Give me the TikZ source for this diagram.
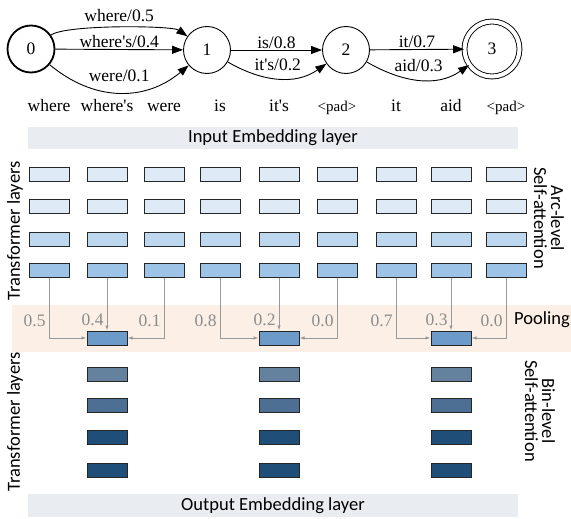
\documentclass[tikz,border=0pt]{standalone}
\usepackage{fontspec}
\setmainfont{Liberation Serif}[Ligatures=TeXOff]
\newfontfamily\labelfont{Carlito}
\usetikzlibrary{arrows.meta}

\definecolor{embgray}{HTML}{E9ECF1}
\definecolor{poolband}{HTML}{FBEFE6}
\definecolor{arcA}{HTML}{DEEBF7}
\definecolor{arcB}{HTML}{BDD7EE}
\definecolor{arcC}{HTML}{9DC3E6}
\definecolor{poolblue}{HTML}{6C9BCA}
\definecolor{binA}{HTML}{64819E}
\definecolor{binB}{HTML}{4C6F93}
\definecolor{binC}{HTML}{1F4E79}

\tikzset{
  state/.style={circle, draw, line width=0.9pt, minimum size=47pt, inner sep=0pt,
    font=\fontsize{17.5}{20}\selectfont},
  fsa/.style={line width=0.9pt, -{Triangle[length=11pt,width=8pt]}},
  arclabel/.style={inner sep=1pt, font=\fontsize{17.5}{20}\selectfont},
  word/.style={anchor=base, font=\fontsize{17.5}{20}\selectfont},
  layerbar/.style={fill=embgray, draw=none, font=\labelfont\fontsize{18.5}{20}\selectfont},
  cell/.style={draw=black!85, line width=1pt, minimum width=40pt, minimum height=14pt,
    inner sep=0pt},
  link/.style={draw=black!40, line width=0.8pt, -{Latex[length=5pt,width=3.5pt]}},
  weight/.style={left, inner sep=3pt, text=black!45, font=\fontsize{17.5}{20}\selectfont},
  sidetext/.style={align=center, inner sep=0pt, font=\labelfont\fontsize{18.5}{17}\selectfont}
}
\newcommand{\padtok}{{\fontsize{15}{17}\selectfont <pad>}}

\begin{document}
\begin{tikzpicture}[x=1pt,y=-1pt]
  \useasboundingbox (0,0) rectangle (571,519);

  \node[state, line width=1.8pt] (s0) at (31,49) {0};
  \node[state] (s1) at (207,50) {1};
  \node[state] (s2) at (346,50) {2};
  \node[state, double, double distance=4pt, minimum size=55pt] (s3) at (492,49) {3};

  \draw[fsa] (s0) to[out=35,in=145,looseness=0.35] node[arclabel, above=4pt] {where/0.5} (s1);
  \draw[fsa] (s0) -- node[arclabel, above] {where's/0.4} (s1);
  \draw[fsa] (s0) to[out=-40,in=-140,looseness=1.05] node[arclabel, above=9pt] {were/0.1} (s1);
  \draw[fsa] (s1) -- node[arclabel, above] {is/0.8} (s2);
  \draw[fsa] (s1) to[out=-30,in=-145,looseness=1] node[arclabel, above=6pt] {it's/0.2} (s2);
  \draw[fsa] (s2) -- node[arclabel, above] {it/0.7} (s3);
  \draw[fsa] (s2) to[out=-30,in=-145,looseness=1] node[arclabel, above=6pt] {aid/0.3} (s3);

  \foreach \w/\x [count=\c] in {where/49, where's/107, were/164, is/220, it's/279,
      \padtok/337, it/396, aid/451, \padtok/506}
    \node[word] (w\c) at (\x,112) {\w};

  \node[layerbar, minimum width=490pt, minimum height=22pt] (inemb) at (273,138) {Input Embedding layer};
  \fill[poolband] (12,305) rectangle (571,352);
  \node[layerbar, minimum width=490pt, minimum height=23pt] (outemb) at (273,505.5) {Output Embedding layer};

  \foreach \x [count=\c] in {49,107,164,220,279,337,396,451,506}
    \foreach \y/\col [count=\r] in {174/arcA,206/arcA,239/arcB,270/arcC}
      \node[cell, fill=\col] (a\r-\c) at (\x,\y) {};

  \coordinate (poolrow) at (0,338);
  \foreach \m/\wl/\wm/\wr [count=\k] in {2/0.5/0.4/0.1, 5/0.8/0.2/0.0, 8/0.7/0.3/0.0} {
    \pgfmathtruncatemacro{\lc}{\m-1}
    \pgfmathtruncatemacro{\rc}{\m+1}
    \node[cell, fill=poolblue] (p\k) at (a4-\m |- poolrow) {};
    \draw[link] (a4-\lc.south) |- node[weight, pos=0.36] {\wl} (p\k.west);
    \draw[link] (a4-\m.south) -- node[weight, pos=0.8] {\wm} (p\k.north);
    \draw[link] (a4-\rc.south) |- node[weight, pos=0.36] {\wr} (p\k.east);
    \foreach \y/\col [count=\r] in {374/binA,405/binB,437/binC,470/binC}
      \node[cell, fill=\col] (b\r-\k) at (a4-\m |- 0,\y) {};
  }

  \node[sidetext, anchor=west] (pooling) at (514,320) {Pooling};
  \node[sidetext, rotate=90] (tfarc) at (15,231) {Transformer layers};
  \node[sidetext, rotate=90] (tfbin) at (15,422) {Transformer layers};
  \node[sidetext, rotate=-90] (arcatt) at (549,218) {Arc-level\\Self-attention};
  \node[sidetext, rotate=-90] (binatt) at (540,411) {Bin-level\\Self-attention};
\end{tikzpicture}
\end{document}
